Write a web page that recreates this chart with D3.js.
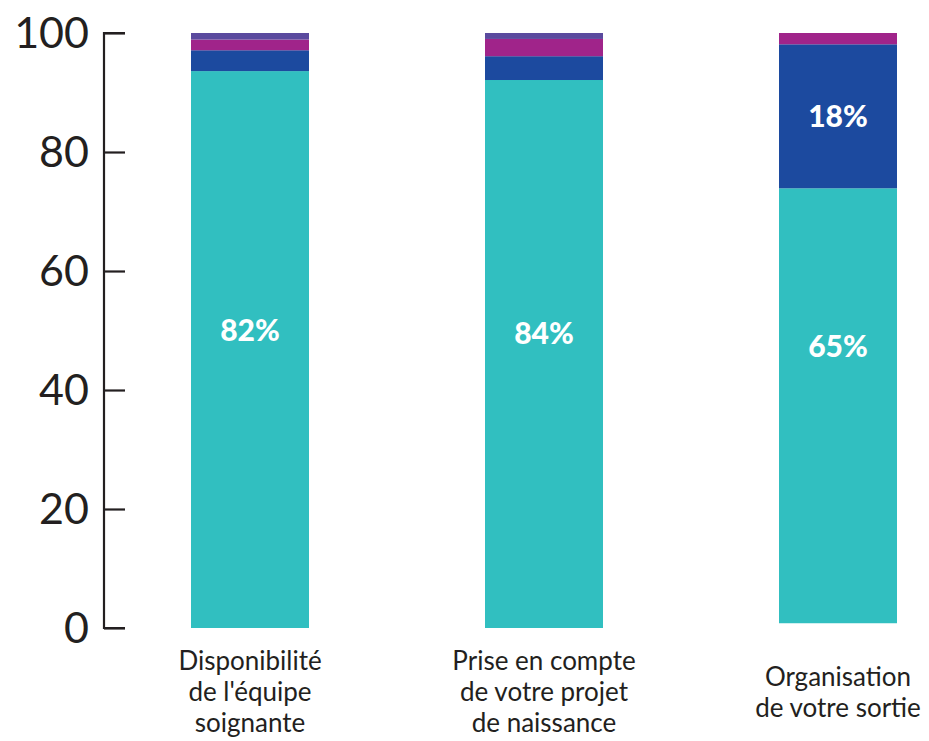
<!DOCTYPE html>
<html><head><meta charset="utf-8">
<script src="https://cdn.jsdelivr.net/npm/d3@7"></script>
<style>body{margin:0;background:#fff}svg{display:block}</style>
</head><body>
<svg id="c" width="929" height="741"></svg>
<script>
const categories = [
  ["Disponibilité","de l'équipe","soignante"],
  ["Prise en compte","de votre projet","de naissance"],
  ["Organisation","de votre sortie"]
];
const seriesNames = ["blank","teal","blue","magenta","purple"];
const blank   = [0, 0, 0.8];
const teal    = [93.6, 92.1, 73.1];
const blue    = [3.5, 4.0, 24.2];
const magenta = [1.8, 2.9, 1.9];
const purple  = [1.1, 1.0, 0];
const yTicks  = [0, 20, 40, 60, 80, 100];
// value labels: [category index, text, anchor value]
const valueLabels = [[0,"82%",50],[1,"84%",49.6],[2,"65%",47.4],[2,"18%",86]];

const colors = {blank:"#ffffff", teal:"#31bfc0", blue:"#1c4a9f", magenta:"#a0248a", purple:"#5a4a9e"};
const svg = d3.select("#c");
const x = d3.scalePoint().domain([0,1,2]).range([250, 838]);
const y = d3.scaleLinear().domain([0,100]).range([628, 33]);

const rows = categories.map((c,i)=>({i, blank:blank[i], teal:teal[i], blue:blue[i], magenta:magenta[i], purple:purple[i]}));
const stack = d3.stack().keys(seriesNames)(rows);

const bw = 118;
const cx = i => x(i);
svg.append("g").selectAll("g").data(stack).join("g")
  .attr("fill", d => colors[d.key])
  .selectAll("rect").data(d=>d).join("rect")
  .attr("x", d => cx(d.data.i) - bw/2)
  .attr("width", bw)
  .attr("y", d => y(d[1]))
  .attr("height", d => y(d[0]) - y(d[1]));

// axis
const ax = svg.append("g").attr("transform","translate(104,0)")
  .call(d3.axisRight(y).tickValues(yTicks).tickSize(21).tickFormat(""));
ax.selectAll("path,line").attr("stroke","#231f20").attr("stroke-width",2.2);
ax.select(".domain").attr("d", `M21,${y(100)}H0V${y(0)}H21`);
svg.append("g").selectAll("text").data(yTicks).join("text")
  .attr("x", 89).attr("y", d=>y(d)).attr("dy","0.36em")
  .attr("text-anchor","end")
  .attr("font-family","Lato").attr("font-size",43).attr("fill","#231f20")
  .text(d=>d);

// category labels
const lh = 31;
categories.forEach((lines,i)=>{
  const y0 = 692 - (lines.length-1)*lh/2;
  const t = svg.append("text").attr("text-anchor","middle")
    .attr("font-family","Lato").attr("font-size",26).attr("fill","#231f20");
  lines.forEach((l,k)=>t.append("tspan").attr("x",cx(i)).attr("y",y0+k*lh).attr("dy","0.35em").text(l));
});

// value labels
svg.append("g").selectAll("text").data(valueLabels).join("text")
  .attr("x", d=>cx(d[0])).attr("y", d=>y(d[2])).attr("dy","0.36em")
  .attr("text-anchor","middle")
  .attr("font-family","Lato").attr("font-weight",900).attr("font-size",30).attr("fill","#fff")
  .text(d=>d[1]);
</script>
</body></html>
